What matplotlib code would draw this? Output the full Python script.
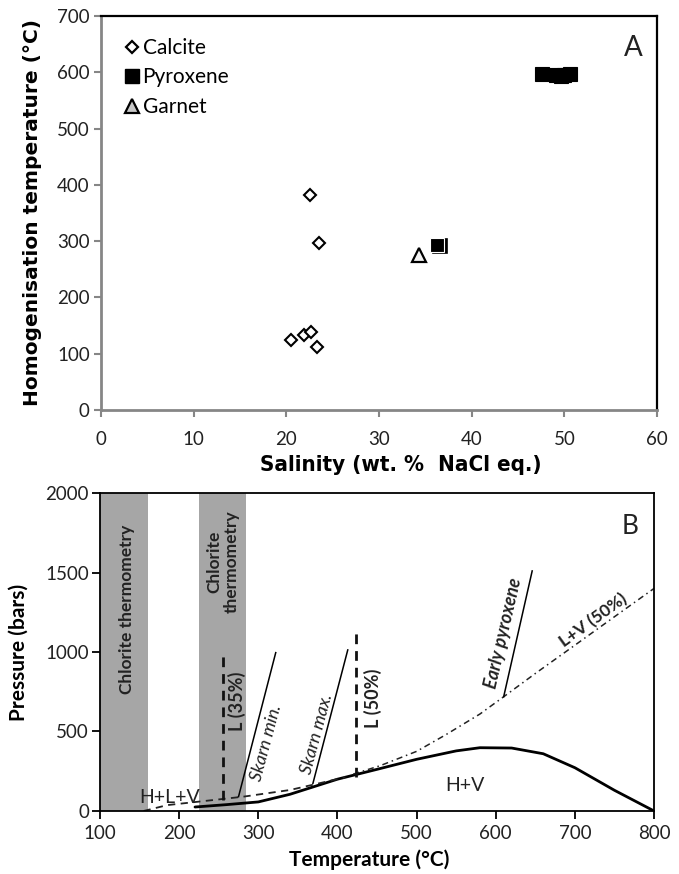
import matplotlib
matplotlib.use("Agg")
import matplotlib.pyplot as plt
from matplotlib.lines import Line2D

plt.rcParams["font.family"] = ["Lato", "DejaVu Sans"]

# Panel A: fluid inclusion data
calcite_sal = [22.6, 23.5, 20.5, 21.9, 22.7, 23.3]
calcite_th = [382, 296, 125, 133, 139, 112]
pyroxene_sal = [36.6, 36.3, 47.6, 49.1, 49.6, 50.0, 50.6]
pyroxene_th = [291, 294, 597, 595, 593, 596, 597]
garnet_sal = [34.3]
garnet_th = [276]

# Panel B: phase boundaries in T-P space
hv_t = [220, 260, 300, 340, 400, 450, 500, 550, 580, 620, 660, 700, 750, 800]
hv_p = [25, 40, 57, 105, 200, 262, 325, 378, 398, 396, 360, 272, 130, 0]
hlv_t = [155, 185, 227, 281, 340, 382, 410]
hlv_p = [0, 37, 60, 90, 132, 180, 212]
lv50_t = [420, 454, 500, 537, 580, 609, 650, 700, 750, 800]
lv50_p = [232, 285, 375, 480, 610, 715, 865, 1043, 1222, 1400]
l35_t, l35_p = [256, 256], [70, 1000]
l50_t, l50_p = [423, 423], [215, 1120]
skarn_min_t, skarn_min_p = [275, 322], [90, 996]
skarn_max_t, skarn_max_p = [369, 413], [174, 1013]
early_px_t, early_px_p = [610, 646], [719, 1510]
chlorite_bands = [(100, 160), (225, 285)]

fig = plt.figure(figsize=(6.79, 8.74), dpi=100)

# ---------------- Panel A ----------------
axA = fig.add_axes([0.1487, 0.5309, 0.819, 0.4508])
gray = "#868686"
axA.plot(calcite_sal, calcite_th, "D", ms=6.3, mfc="white", mec="black", mew=1.5,
         ls="none")
# overlapping pyroxene pair near 36 wt.% (white edge on the upper one)
axA.plot(pyroxene_sal[:1], pyroxene_th[:1], "s", ms=9.5, mfc="black", mec="black",
         mew=1.2, ls="none")
axA.plot(pyroxene_sal[1:2], pyroxene_th[1:2], "s", ms=9.5, mfc="black", mec="white",
         mew=0.8, ls="none")
axA.plot(pyroxene_sal[2:], pyroxene_th[2:], "s", ms=9.5, mfc="black", mec="black",
         mew=0.8, ls="none")
axA.plot(garnet_sal, garnet_th, "^", ms=10, mfc="#f4f4f4", mec="black", mew=1.6,
         ls="none")

handles = [
    Line2D([], [], marker="D", ms=6.3, mfc="white", mec="black", mew=1.6, ls="none"),
    Line2D([], [], marker="s", ms=9.5, mfc="black", mec="black", ls="none"),
    Line2D([], [], marker="^", ms=10, mfc="#c8c8c8", mec="black", mew=1.6, ls="none"),
]
axA.legend(handles, ["Calcite", "Pyroxene", "Garnet"], loc="upper left",
           bbox_to_anchor=(0.028, 0.965), frameon=False, fontsize=15,
           handlelength=0.7, handletextpad=0.15, labelspacing=0.45, borderaxespad=0)

axA.set_xlim(0, 60)
axA.set_ylim(0, 700)
axA.set_xticks(range(0, 61, 10))
axA.set_yticks(range(0, 701, 100))
axA.tick_params(axis="both", direction="out", length=5, width=1.5, color=gray,
                labelsize=13.5, labelcolor="#222222")
axA.tick_params(axis="x", pad=10)
axA.tick_params(axis="y", pad=3)
for side in ["left", "bottom"]:
    axA.spines[side].set_color(gray)
    axA.spines[side].set_linewidth(2)
for side in ["top", "right"]:
    axA.spines[side].set_color("black")
    axA.spines[side].set_linewidth(1.6)

axA.text(0.957, 0.919, "A", transform=axA.transAxes, fontsize=20,
         ha="center", va="center", color="#222222")
axA.set_ylabel("Homogenisation temperature (°C)", fontsize=14.5, fontweight="bold",
               family=["DejaVu Sans"], va="center")
axA.yaxis.set_label_coords(-0.124, 0.5)
axA.set_xlabel("Salinity (wt. %  NaCl eq.)", fontsize=16, fontweight="bold",
               family=["DejaVu Sans"], fontstretch="condensed", va="center")
axA.xaxis.set_label_coords(0.54, -0.14)

# ---------------- Panel B ----------------
axB = fig.add_axes([0.1473, 0.0721, 0.816, 0.3638])
for lo, hi in chlorite_bands:
    axB.axvspan(lo, hi, color="#a6a6a6", lw=0, zorder=0)

axB.plot(hv_t, hv_p, color="black", lw=2.0, solid_capstyle="round")
axB.plot(hlv_t, hlv_p, color="#222222", lw=1.3, ls=(0, (4, 3)))
axB.plot(lv50_t, lv50_p, color="#222222", lw=1.1, ls=(0, (4, 2.5, 1, 2.5)))
axB.plot(l35_t, l35_p, color="#111111", lw=2.0, ls=(0, (3.5, 2.5)))
axB.plot(l50_t, l50_p, color="#111111", lw=2.0, ls=(0, (3.5, 2.5)))
axB.plot(skarn_min_t, skarn_min_p, color="black", lw=1.1)
axB.plot(skarn_max_t, skarn_max_p, color="black", lw=1.1)
axB.plot(early_px_t, early_px_p, color="black", lw=1.1)

axB.text(134, 1265, "Chlorite thermometry", rotation=90, ha="center", va="center",
         fontsize=12.5, fontweight="bold", color="#222222")
axB.text(255.5, 1566, "Chlorite\nthermometry", rotation=90, ha="center", va="center",
         fontsize=12.5, fontweight="bold", color="#222222", linespacing=1.1,
         multialignment="center")
axB.text(273, 690, "L (35%)", rotation=90, ha="center", va="center",
         fontsize=13, fontweight="bold", color="#222222")
axB.text(445, 711, "L (50%)", rotation=90, ha="center", va="center",
         fontsize=13, fontweight="bold", color="#222222")
axB.text(310.5, 428, "Skarn min.", rotation=75, ha="center", va="center",
         fontsize=13, style="italic", color="#222222")
axB.text(374, 489, "Skarn max.", rotation=75, ha="center", va="center",
         fontsize=13, style="italic", color="#222222")
axB.text(609.5, 1117, "Early pyroxene", rotation=77, ha="center", va="center",
         fontsize=13, style="italic", fontweight="bold", color="#222222")
axB.text(723, 1200, "L+V (50%)", rotation=36, ha="center", va="center",
         fontsize=12.5, fontweight="bold", color="#222222")
axB.text(561, 163, "H+V", ha="center", va="center", fontsize=14, color="#222222")
axB.text(188.5, 82, "H+L+V", ha="center", va="center", fontsize=14, color="#222222")
axB.text(770, 1792, "B", ha="center", va="center", fontsize=19, color="#222222")

axB.set_xlim(100, 800)
axB.set_ylim(0, 2000)
axB.set_xticks(range(100, 801, 100))
axB.set_yticks(range(0, 2001, 500))
axB.tick_params(axis="both", direction="out", length=6, width=1.3, color="black",
                labelsize=13.5, labelcolor="#222222")
axB.tick_params(axis="x", pad=4)
axB.tick_params(axis="y", pad=2)
for side in axB.spines.values():
    side.set_color("black")
    side.set_linewidth(1.3)

axB.set_ylabel("Pressure (bars)", fontsize=15, fontweight="bold", va="center")
axB.yaxis.set_label_coords(-0.146, 0.5)
axB.set_xlabel("Temperature (°C)", fontsize=15, fontweight="bold", va="center")
axB.xaxis.set_label_coords(0.485, -0.154)

fig.savefig("out.png", dpi=100, facecolor="white")
